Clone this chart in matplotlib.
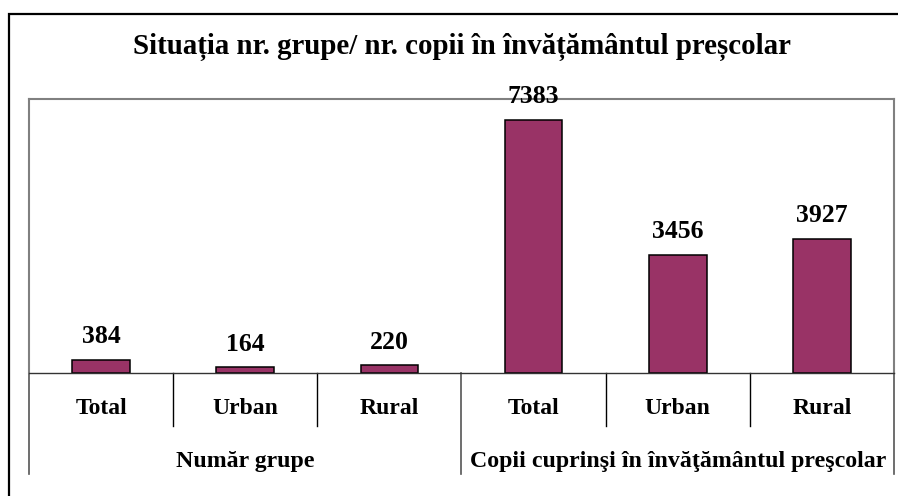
import numpy as np
import matplotlib.pyplot as plt
from matplotlib.patches import Rectangle

# date
categorii = ['Total', 'Urban', 'Rural', 'Total', 'Urban', 'Rural']
valori = [384, 164, 220, 7383, 3456, 3927]
grupe = ['Număr grupe', 'Copii cuprinşi în învăţământul preşcolar']
titlu = 'Situația nr. grupe/ nr. copii în învățământul preșcolar'

plt.rcParams['font.family'] = ['Liberation Serif', 'DejaVu Serif']
plt.rcParams['font.weight'] = 'bold'

W, H = 898, 496
fig = plt.figure(figsize=(W / 100, H / 100), dpi=100)

# zona graficului (in pixeli)
x0, x1, ytop, ybase = 29, 894, 99, 373
ax = fig.add_axes([x0 / W, (H - ybase) / H, (x1 - x0) / W, (ybase - ytop) / H])

x = np.arange(len(valori))
bars = ax.bar(x, valori, width=0.4, color='#993366', edgecolor='black', linewidth=1.1)
ax.set_xlim(-0.5, len(valori) - 0.5)
ax.set_ylim(0, 8000)
ax.set_xticks([])
ax.set_yticks([])

for s in ['top', 'left', 'right']:
    ax.spines[s].set_color('#808080')
    ax.spines[s].set_linewidth(1.5)
ax.spines['bottom'].set_color('#333333')
ax.spines['bottom'].set_linewidth(1.0)

for b, v in zip(bars, valori):
    ax.annotate(str(v), (b.get_x() + b.get_width() / 2, v), xytext=(0, 12),
                textcoords='offset points', ha='center', va='baseline',
                fontsize=18.5, fontweight='bold')

h = ybase - ytop
trans = ax.get_xaxis_transform()
# etichete categorii
for i, c in enumerate(categorii):
    ax.text(i, -(409 - ybase) / h, c, transform=trans, ha='center', va='center',
            fontsize=17, fontweight='bold')
# linii de separare intre categorii
for xs in [0.5, 1.5, 3.5, 4.5]:
    ax.plot([xs, xs], [0, -(426 - ybase) / h], transform=trans, color='black',
            lw=1.0, clip_on=False)
for xs in [-0.5, 2.5, 5.5]:
    ax.plot([xs, xs], [0, -(474 - ybase) / h], transform=trans, color='#555555',
            lw=1.2, clip_on=False)
# etichete grupe
for j, g in enumerate(grupe):
    ax.text(1 + 3 * j, -(462 - ybase) / h, g, transform=trans, ha='center', va='center',
            fontsize=17.2, fontweight='bold')

fig.text((x0 + x1) / 2 / W, (H - 47) / H, titlu, ha='center', va='center',
         fontsize=20.8, fontweight='bold')

# chenarul exterior
fig.patches.append(Rectangle((9 / W, -0.05), 1.0, (H - 14) / H + 0.05,
                             transform=fig.transFigure, fill=False,
                             edgecolor='black', linewidth=1.6))

fig.savefig('out.png', dpi=100)
